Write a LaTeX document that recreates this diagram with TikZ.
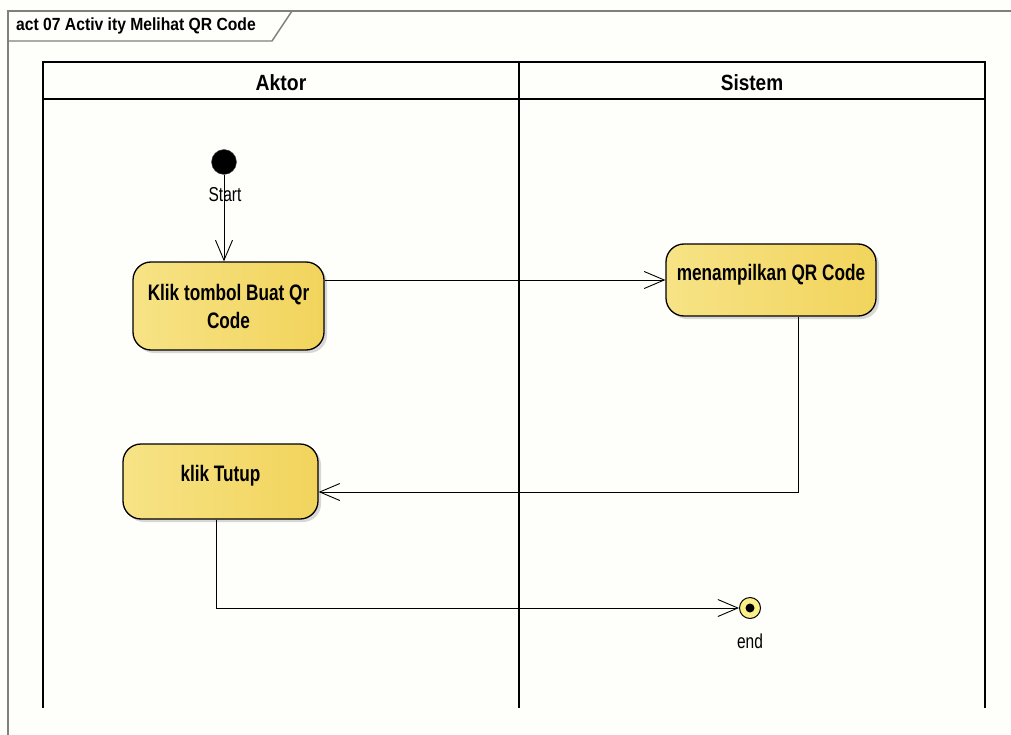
\documentclass[tikz,border=0pt]{standalone}
\usepackage{fontspec}
\setmainfont{Liberation Sans}
\usetikzlibrary{arrows.meta,shadows,calc}

\definecolor{framegray}{HTML}{7F7F7F}
\definecolor{actleft}{HTML}{F7E386}
\definecolor{actright}{HTML}{F2D45C}
\definecolor{finalfill}{HTML}{F9F08A}
\definecolor{paper}{HTML}{FEFEFB}

% condensed, slightly tall text, as the UML tool renders it
\newcommand{\cond}[1]{\scalebox{0.86}[1.12]{#1}}

\tikzset{
  frameline/.style={draw=framegray, line width=1.4pt},
  laneline/.style={draw=black, line width=1.8pt},
  action/.style={draw=black, line width=1.3pt, rounded corners=18pt,
    left color=actleft, right color=actright,
    drop shadow={shadow xshift=3pt, shadow yshift=-3pt, opacity=0.3, fill=gray},
    font=\fontsize{20}{28}\selectfont\bfseries, inner sep=0pt, align=center},
  lanehead/.style={font=\fontsize{20}{24}\selectfont\bfseries, inner sep=0pt},
  plain/.style={font=\fontsize{18}{20}\selectfont, inner sep=0pt},
  flow/.style={draw=black, line width=0.9pt, -{Straight Barb[length=20pt,width=17pt,line width=0.9pt]}},
}

\begin{document}
\begin{tikzpicture}[x=1pt, y=-1pt]
  \useasboundingbox (0,0) rectangle (1011,735);
  \fill[paper] (0,0) rectangle (1011,735);

  % diagram frame with its name tab
  \draw[frameline] (8,735) -- (8,11) -- (1011,11);
  \draw[frameline] (8,41) -- (272,41) -- (292,11);
  \node[anchor=west, font=\fontsize{16}{18}\selectfont\bfseries, inner sep=0pt]
    (title) at (16,26) {\scalebox{0.98}[1.1]{act 07 Activ ity Melihat QR Code}};

  % swimlanes
  \draw[laneline] (43,708) -- (43,62) -- (985,62) -- (985,708);
  \draw[laneline] (43,99) -- (985,99);
  \draw[laneline] (519,62) -- (519,708);
  \node[lanehead] (aktor) at (281,83) {\scalebox{0.97}[1.1]{Aktor}};
  \node[lanehead] (sistem) at (752,83) {\scalebox{0.95}[1.1]{Sistem}};

  % initial node
  \node[circle, fill=black, draw=black!70, minimum size=25pt, inner sep=0pt] (start) at (224,162) {};
  \node[plain] (startlbl) at (225,195) {\cond{Start}};

  % actions
  \node[action, minimum width=191pt, minimum height=88pt] (klik) at (228.5,306)
    {\cond{Klik tombol Buat Qr}\\\cond{Code}};
  \node[action, minimum width=210pt, text height=36pt, text depth=36pt] (tampil) at (771,280)
    {\cond{menampilkan QR Code}};
  \node[action, minimum width=195pt, text height=37pt, text depth=38pt] (tutup) at (220.5,481.5)
    {\cond{klik Tutup}};

  % final node
  \node[circle, draw=black, line width=1pt, fill=finalfill, minimum size=21pt, inner sep=0pt,
    path picture={\fill[black] (path picture bounding box.center) circle (4.5pt);}] (end) at (750,608) {};
  \node[plain] (endlbl) at (750,641) {\cond{end}};

  % control flows
  \draw[flow] (start) -- (start |- klik.north);
  \draw[flow] (klik.east |- tampil.west) -- (tampil.west);
  \draw[flow] ([xshift=27pt]tampil.south) |- ([yshift=-10.5pt]tutup.east);
  \draw[flow] ([xshift=-4.5pt]tutup.south) |- (end.west);
\end{tikzpicture}
\end{document}
